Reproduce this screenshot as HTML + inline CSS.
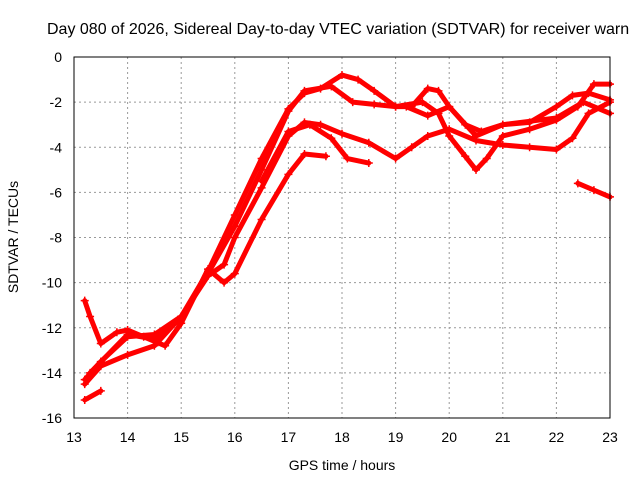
<!DOCTYPE html>
<html><head><meta charset="utf-8"><style>
body{margin:0;background:#fff;}
svg{display:block;font-family:"Liberation Sans",sans-serif;}
</style></head><body>
<svg id="chart" width="640" height="480" viewBox="0 0 640 480">
<rect width="640" height="480" fill="#fff"/>
<text x="47" y="34" font-size="16" fill="#000">Day 080 of 2026, Sidereal Day-to-day VTEC variation (SDTVAR) for receiver warn</text>
<g id="grid"></g>
<g id="series"></g>
<rect x="74" y="57" width="536" height="361" fill="none" stroke="#000" stroke-width="1"/>
<g id="ticks"></g>
<text x="342" y="470" font-size="14" text-anchor="middle">GPS time / hours</text>
<text transform="translate(18,237) rotate(-90)" font-size="14" text-anchor="middle">SDTVAR / TECUs</text>
</svg>
<script>
const xTicks=[13,14,15,16,17,18,19,20,21,22,23];
const yTicks=[0,-2,-4,-6,-8,-10,-12,-14,-16];
const seriesA=[[13.2,-14.3],[13.5,-13.5],[14,-12.4],[14.5,-12.3],[15,-11.5],[15.5,-9.5],[16,-7],[16.5,-4.5],[17,-2.3],[17.3,-1.6],[17.6,-1.4],[18,-0.8],[18.3,-1],[18.6,-1.5],[19,-2.2],[19.3,-2.2],[19.6,-1.4],[19.8,-1.5],[20,-2.2],[20.3,-3],[20.6,-3.3],[21,-3],[21.5,-2.9],[22,-2.2],[22.3,-1.7],[22.6,-1.6],[23,-1.9]];
const seriesB=[[13.3,-14],[14,-12.3],[14.5,-12.5],[15,-11.6],[15.5,-9.6],[16,-7.5],[16.5,-5],[17,-2.4],[17.3,-1.5],[17.8,-1.3],[18.2,-2],[18.6,-2.1],[19,-2.2],[19.5,-2],[19.8,-2.5],[20,-3.5],[20.3,-4.4],[20.5,-5],[20.7,-4.5],[21,-3.5],[21.5,-3.2],[22,-2.8],[22.4,-2.2],[22.7,-1.2],[23,-1.2]];
const seriesC=[[13.2,-14.5],[13.5,-13.7],[14,-13.2],[14.5,-12.8],[15,-11.5],[15.5,-9.7],[15.8,-9.2],[16,-8],[16.5,-5.8],[17,-3.5],[17.3,-2.9],[17.6,-3],[18,-3.4],[18.5,-3.8],[19,-4.5],[19.3,-4],[19.6,-3.5],[20,-3.2],[20.5,-3.7],[21,-3.9],[21.5,-4],[22,-4.1],[22.3,-3.6],[22.6,-2.5],[23,-2]];
const seriesD=[[13.2,-10.8],[13.3,-11.5],[13.5,-12.7],[13.8,-12.2],[14,-12.1],[14.3,-12.4],[14.7,-12.8],[15,-11.8],[15.5,-9.4],[15.8,-10],[16,-9.6],[16.5,-7.2],[17,-5.2],[17.3,-4.3],[17.7,-4.4]];
const seriesE=[[16.5,-5.5],[17,-3.3],[17.4,-3],[17.8,-3.6],[18.1,-4.5],[18.5,-4.7]];
const seriesF=[[22.4,-5.6],[22.7,-5.9],[23,-6.2]];
const seriesG=[[13.2,-15.2],[13.5,-14.8]];
const seriesH=[[19.2,-2.2],[19.6,-2.6],[20,-2.2],[20.5,-3.5],[21,-3],[22,-2.7],[22.5,-2],[23,-2.5]];
const allSeries=[seriesA,seriesB,seriesC,seriesD,seriesE,seriesF,seriesG,seriesH];
const NS="http://www.w3.org/2000/svg";
const X=v=>74+(v-13)*53.6;
const Y=v=>57+(0-v)*361/16;
function mk(t,a,p){const e=document.createElementNS(NS,t);for(const k in a)e.setAttribute(k,a[k]);p.appendChild(e);return e;}
const grid=document.getElementById('grid'),ticks=document.getElementById('ticks'),ser=document.getElementById('series');
xTicks.forEach(t=>{
 const l=mk('line',{x1:X(t),x2:X(t),y1:57,y2:418,stroke:'#999','stroke-dasharray':'2,3'},grid);
 
 
 const tx=mk('text',{x:X(t),y:442,'font-size':14,'text-anchor':'middle'},ticks);
 tx.textContent=t;
 
 
});
yTicks.forEach(t=>{
 const l=mk('line',{x1:74,x2:610,y1:Y(t),y2:Y(t),stroke:'#999','stroke-dasharray':'2,3'},grid);
 
 
 const tx=mk('text',{x:62,y:Y(t)+5,'font-size':14,'text-anchor':'end'},ticks);
 tx.textContent=t;
 
 
});
allSeries.forEach((s,i)=>{
 const p=mk('polyline',{points:s.map(d=>X(d[0])+','+Y(d[1])).join(' '),fill:'none',stroke:'#f00','stroke-width':5,'stroke-linejoin':'round','stroke-linecap':'round'},ser);
 
 
 s.forEach(d=>{
  const m=mk('path',{d:`M${X(d[0])-4},${Y(d[1])}h8M${X(d[0])},${Y(d[1])-4}v8`,stroke:'#f00','stroke-width':1.5},ser);
  
  
 });
});
</script>
</body></html>
